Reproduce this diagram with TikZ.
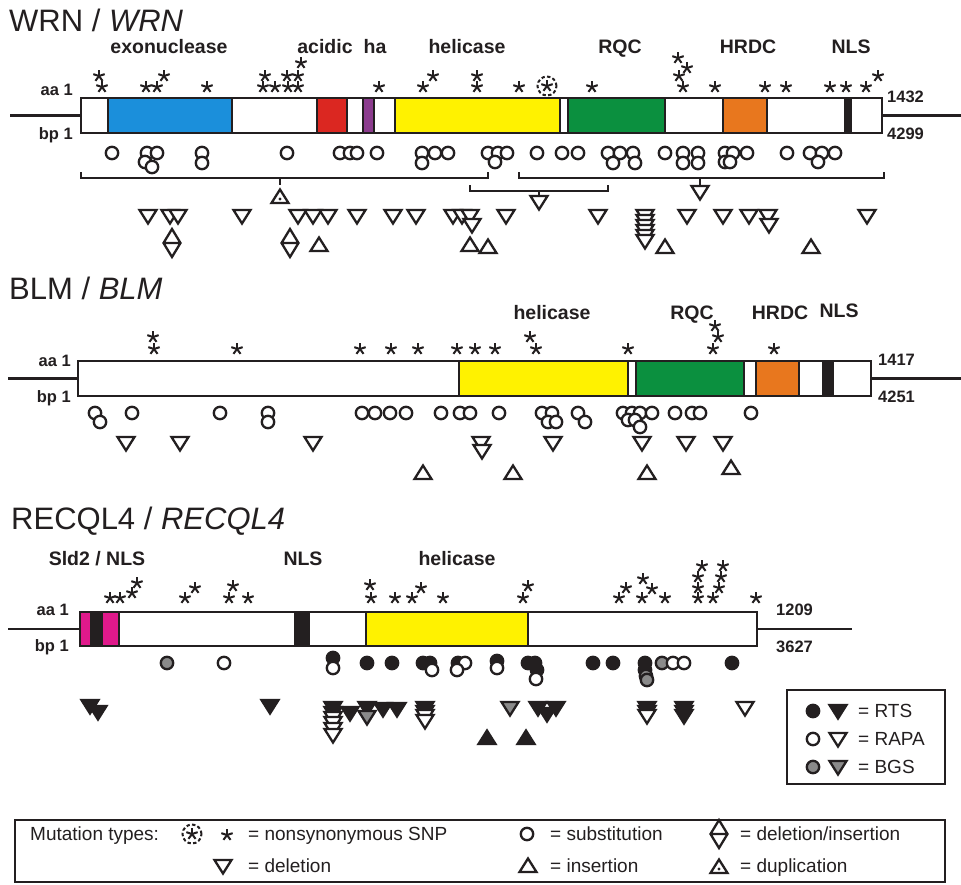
\documentclass[tikz,border=0pt]{standalone}
\usepackage{fontspec}
\setmainfont{Liberation Sans}
\usepackage{xcolor}
\usetikzlibrary{positioning}
\definecolor{Ink}{HTML}{231F20}
\definecolor{ExoBlue}{HTML}{1B8FDB}
\definecolor{AcidRed}{HTML}{DB2721}
\definecolor{HaPurple}{HTML}{8C3C8E}
\definecolor{HelYellow}{HTML}{FFF200}
\definecolor{RqcGreen}{HTML}{0B903F}
\definecolor{HrdcOrange}{HTML}{E8771E}
\definecolor{SldPink}{HTML}{E0198B}
\definecolor{MarkGray}{HTML}{8A8A8A}

\tikzset{
  mk/.style={draw=Ink, line width=2.3pt},
  pics/sub/.style={code={\path[mk, fill=#1] (0,0) circle (6.2pt);}},
  pics/sub/.default=white,
  pics/del/.style={code={\path[mk, fill=#1] (-8.5,-6) -- (8.5,-6) -- (0,7.5) -- cycle;}},
  pics/del/.default=white,
  pics/ins/.style={code={\path[mk, fill=#1] (-8.5,6) -- (8.5,6) -- (0,-7.5) -- cycle;}},
  pics/ins/.default=white,
  pics/delins/.style={code={\path[mk, fill=white] (0,-14) -- (8.5,0) -- (0,14) -- (-8.5,0) -- cycle
                             (-8.5,0) -- (8.5,0);}},
  pics/dup/.style={code={\path[mk, fill=white] (-8.5,6) -- (8.5,6) -- (0,-7.5) -- cycle;
                         \fill[Ink] (0,2) circle (1.7pt);}},
  pics/snp/.style={code={\foreach \a in {-90,-18,54,126,198}
                         \draw[Ink, line width=2pt] (0,0) -- (\a:6);}},
  pics/snpring/.style={code={\draw[Ink, line width=2pt, dash pattern=on 3.4pt off 2.3pt] (0,0) circle (9.5pt);
                             \pic {snp};}},
}

\begin{document}
\begin{tikzpicture}[x=1pt, y=-1pt,
  gtitle/.style={font=\fontsize{31}{34}\selectfont, text=Ink, anchor=base west, inner sep=0pt},
  dom/.style={font=\fontsize{19.5}{22}\selectfont\bfseries, text=Ink, anchor=base, inner sep=0pt},
  numlbl/.style={font=\fontsize{16.5}{18}\selectfont\bfseries, text=Ink, inner sep=0pt},
  leg/.style={font=\fontsize{19}{21}\selectfont, text=Ink, anchor=base west, inner sep=0pt},
  seg/.style={draw=Ink, line width=2.3pt},
  bar/.style={draw=Ink, line width=2.8pt, inner sep=0pt, outer sep=0pt, anchor=north west},
  gline/.style={draw=Ink, line width=2.8pt},
  brk/.style={draw=Ink, line width=2.5pt},
]
\useasboundingbox (0,0) rectangle (961,884);
\fill[white] (0,0) rectangle (961,884);

%% ---- WRN ----
\node[gtitle] (wrnTitle) at (9,31) {WRN / \textit{WRN}};
\node[dom] (wrnExo)  at (169,53) {exonuclease};
\node[dom] (wrnAcid) at (325,53) {acidic};
\node[dom] (wrnHa)   at (375,53) {ha};
\node[dom] (wrnHel)  at (467,53) {helicase};
\node[dom] (wrnRqc)  at (620,53) {RQC};
\node[dom] (wrnHrdc) at (748,53) {HRDC};
\node[dom] (wrnNls)  at (851,53) {NLS};
\foreach \a/\b/\c in {108/232/ExoBlue, 317/347/AcidRed, 363/374/HaPurple, 395/560/HelYellow,
  568/665/RqcGreen, 723/767/HrdcOrange, 845/851/Ink}
  \draw[seg, fill=\c] (\a,98) rectangle (\b,133);
\node[bar, minimum width=801pt, minimum height=35pt] (wrn) at (81,98) {};
\coordinate (wrnIn) at (10,115.5);
\coordinate (wrnOut) at (961,115.5);
\draw[gline] (wrnIn) -- (wrn.west);
\draw[gline] (wrn.east) -- (wrnOut);
\node[numlbl, anchor=base east] (wrnAa) at (73,95) {aa 1};
\node[numlbl, anchor=base east] (wrnBp) at (73,139) {bp 1};
\node[numlbl, anchor=base west] (wrnAaEnd) at (887,102) {1432};
\node[numlbl, anchor=base west] (wrnBpEnd) at (887,139) {4299};
% mutations
\foreach \x/\y in {99/76, 102/87, 146/87, 157/87, 164/76, 207/87, 263/87, 275/87, 265/76,
  288/87, 287/76, 298/87, 298/76, 301/63, 379/87, 423/87, 433/76, 477/76, 477/87, 519/87,
  592/87, 678/58, 687/68, 679/76, 683/87, 715/87, 765/87, 786/87, 830/87, 846/87, 866/87, 878/76}
  \pic at (\x,\y) {snp};
\pic at (547,86) {snpring};
\foreach \x/\y in {112/153, 147/153, 157/153, 145/162, 152/167, 202/153, 202/163, 287/153,
  340/153, 350/153, 357/153, 377/153, 422/153, 422/163, 435/153, 448/153, 488/153, 498/153,
  507/153, 495/162, 537/153, 562/153, 578/153, 608/153, 620/153, 633/153, 613/163, 635/163,
  665/153, 683/153, 698/153, 683/163, 698/163, 725/153, 733/153, 747/153, 725/162, 730/162,
  787/153, 810/153, 822/153, 835/153, 818/162}
  \pic at (\x,\y) {sub};
\draw[brk] (81,172) -- (81,178) -- (488,178) -- (488,172) (280,178) -- (280,185);
\draw[brk] (519,172) -- (519,178) -- (884,178) -- (884,172) (700,178) -- (700,186);
\draw[brk] (470,185) -- (470,191) -- (608,191) -- (608,185) (539,191) -- (539,196);
\pic at (280,197) {dup};
\pic at (539,202) {del};
\pic at (700,192) {del};
\foreach \x/\y in {148/216, 170/216, 178/216, 242/216, 298/216, 313/216, 328/216, 357/216,
  393/216, 416/216, 453/216, 462/216, 470/216, 472/225, 506/216, 598/216, 645/216, 645/221,
  645/226, 645/231, 645/236, 645/241, 687/216, 723/216, 749/216, 768/216, 769/225, 867/216}
  \pic at (\x,\y) {del};
\foreach \x in {172, 290} \pic at (\x,243) {delins};
\foreach \x/\y in {319/245, 470/245, 488/247, 665/247, 811/247} \pic at (\x,\y) {ins};

%% ---- BLM ----
\node[gtitle] (blmTitle) at (9,299) {BLM / \textit{BLM}};
\node[dom] (blmHel)  at (552,319) {helicase};
\node[dom] (blmRqc)  at (692,319) {RQC};
\node[dom] (blmHrdc) at (780,319) {HRDC};
\node[dom] (blmNls)  at (839,317) {NLS};
\foreach \a/\b/\c in {459/628/HelYellow, 636/744/RqcGreen, 756/799/HrdcOrange, 823/833/Ink}
  \draw[seg, fill=\c] (\a,361) rectangle (\b,396);
\node[bar, minimum width=793pt, minimum height=35pt] (blm) at (78,361) {};
\coordinate (blmIn) at (8,378.5);
\coordinate (blmOut) at (961,378.5);
\draw[gline] (blmIn) -- (blm.west);
\draw[gline] (blm.east) -- (blmOut);
\node[numlbl, anchor=base east] (blmAa) at (71,366) {aa 1};
\node[numlbl, anchor=base east] (blmBp) at (71,402) {bp 1};
\node[numlbl, anchor=base west] (blmAaEnd) at (878,365) {1417};
\node[numlbl, anchor=base west] (blmBpEnd) at (878,402) {4251};
% mutations
\foreach \x/\y in {153/337, 154/349, 237/349, 360/349, 391/349, 418/349, 457/349, 475/349,
  495/349, 530/337, 536/349, 628/349, 715/326, 718/337, 713/349, 774/349}
  \pic at (\x,\y) {snp};
\foreach \x/\y in {95/413, 100/422, 132/413, 220/413, 268/413, 268/422, 362/413, 375/413,
  390/413, 406/413, 441/413, 460/413, 470/413, 499/413, 542/413, 552/413, 548/422, 556/422,
  578/413, 585/422, 623/413, 632/413, 640/413, 652/413, 628/420, 635/420, 640/427, 675/413,
  692/413, 700/413, 751/413}
  \pic at (\x,\y) {sub};
\foreach \x/\y in {126/443, 180/443, 313/443, 481/443, 482/451, 553/443, 642/443, 686/443, 723/443}
  \pic at (\x,\y) {del};
\foreach \x/\y in {423/473, 513/473, 647/473, 731/468} \pic at (\x,\y) {ins};

%% ---- RECQL4 ----
\node[gtitle] (recTitle) at (11,529) {RECQL4 / \textit{RECQL4}};
\node[dom] (recSld) at (97,565) {Sld2 / NLS};
\node[dom] (recNls) at (303,565) {NLS};
\node[dom] (recHel) at (457,565) {helicase};
\foreach \a/\b/\c in {80/91/SldPink, 91/102/Ink, 102/119/SldPink, 295/309/Ink, 366/528/HelYellow}
  \draw[seg, fill=\c] (\a,612) rectangle (\b,646);
\node[bar, minimum width=677pt, minimum height=34pt] (rec) at (80,612) {};
\coordinate (recIn) at (8,629);
\coordinate (recOut) at (852,629);
\draw[gline] (recIn) -- (rec.west);
\draw[gline] (rec.east) -- (recOut);
\node[numlbl, anchor=base east] (recAa) at (69,615) {aa 1};
\node[numlbl, anchor=base east] (recBp) at (69,651) {bp 1};
\node[numlbl, anchor=base west] (recAaEnd) at (776,615) {1209};
\node[numlbl, anchor=base west] (recBpEnd) at (776,652) {3627};
% mutations
\foreach \x/\y in {110/598, 120/598, 132/593, 137/583, 185/598, 195/588, 229/598, 233/586,
  248/598, 370/585, 371/598, 395/598, 412/598, 421/588, 443/598, 523/598, 528/586, 619/598,
  626/588, 643/579, 642/598, 652/589, 665/598, 698/598, 698/588, 698/577, 702/566, 713/598,
  719/588, 721/577, 723/566, 756/598}
  \pic at (\x,\y) {snp};
\foreach \x/\y/\f in {167/663/MarkGray, 224/663/white, 333/658/Ink, 333/668/white, 367/663/Ink,
  392/663/Ink, 423/663/Ink, 430/663/Ink, 432/670/white, 458/663/Ink, 465/663/white, 457/670/white,
  497/661/Ink, 497/668/white, 528/663/Ink, 535/663/Ink, 537/670/Ink, 536/679/white, 593/663/Ink,
  613/663/Ink, 645/663/Ink, 645/670/Ink, 646/676/MarkGray, 647/680/MarkGray, 662/663/MarkGray,
  673/663/white, 684/663/white, 732/663/Ink}
  \pic at (\x,\y) {sub=\f};
\foreach \x/\y/\f in {90/706/Ink, 98/712/Ink, 270/706/Ink, 333/708/Ink, 333/713/Ink, 333/718/white,
  333/723/white, 333/729/white, 333/735/white, 350/713/Ink, 367/708/Ink, 367/717/MarkGray,
  383/709/Ink, 397/709/Ink, 425/708/Ink, 425/712/Ink, 425/716/white, 425/721/white,
  510/708/MarkGray, 538/708/Ink, 556/708/Ink, 547/714/Ink, 647/708/Ink, 647/712/Ink,
  647/716/white, 684/708/Ink, 684/712/Ink, 684/716/Ink, 745/708/white}
  \pic at (\x,\y) {del=\f};
\foreach \x in {487, 526} \pic at (\x,738) {ins=Ink};

%% ---- study key ----
\draw[Ink, line width=2.6pt] (787,690) rectangle (945,784);
\foreach \f/\t/\y in {Ink/RTS/711, white/RAPA/739, MarkGray/BGS/767} {
  \pic at (813,\y) {sub=\f};
  \pic at (838,\y) {del=\f};
  \node[leg] (key\t) at (858,\y+6.5) {= \t};
}

%% ---- mutation types ----
\draw[Ink, line width=2.6pt] (15,820) rectangle (945,882);
\node[leg] (legHead) at (30,840) {Mutation types:};
\pic at (192,834) {snpring};
\pic at (227,835) {snp};
\node[leg] (legSnp) at (248,840) {= nonsynonymous SNP};
\pic at (223,866) {del};
\node[leg] (legDel) at (248,872) {= deletion};
\pic at (527,834) {sub};
\node[leg] (legSub) at (550,840) {= substitution};
\pic at (528,866) {ins};
\node[leg] (legIns) at (550,872) {= insertion};
\pic at (719,834) {delins};
\node[leg] (legDelins) at (740,840) {= deletion/insertion};
\pic at (719,867) {dup};
\node[leg] (legDup) at (740,872) {= duplication};
\end{tikzpicture}
\end{document}
